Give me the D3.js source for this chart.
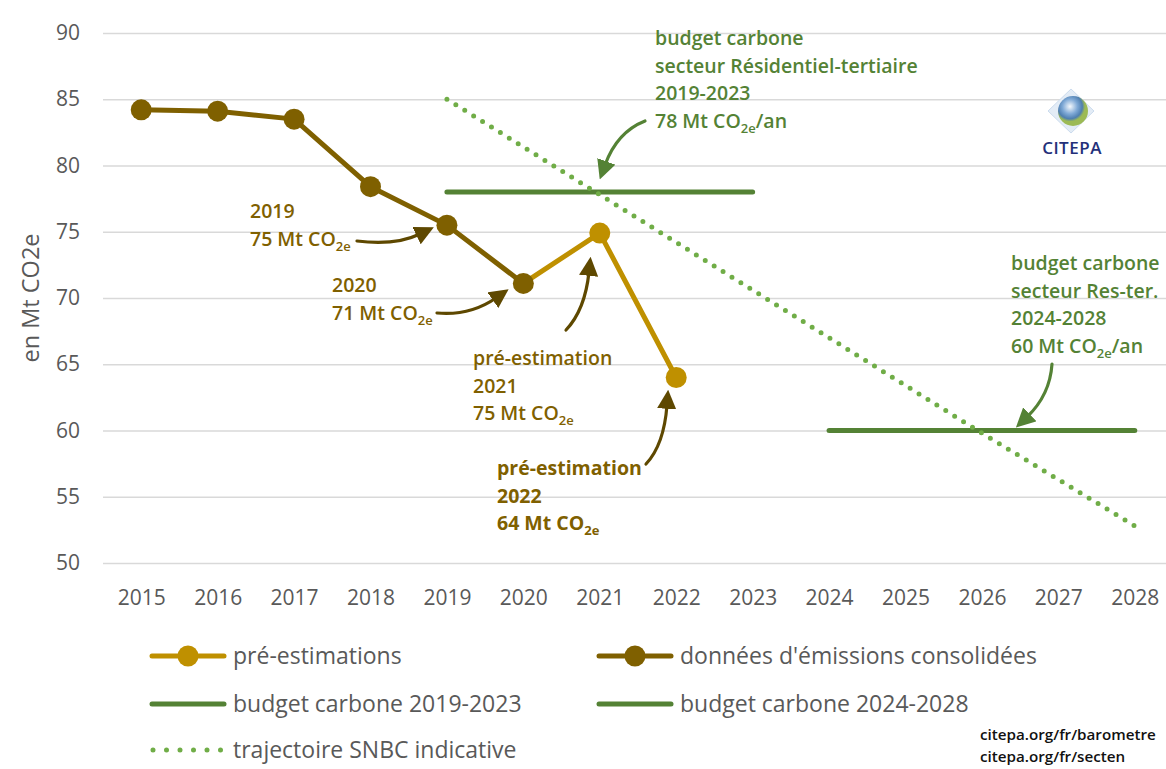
<!DOCTYPE html>
<html>
<head>
<meta charset="utf-8">
<script src="https://cdn.jsdelivr.net/npm/d3@7"></script>
<style>
  body { margin: 0; background: #fff; }
  svg { display: block; }
</style>
</head>
<body>
<div id="chart"></div>
<script>
// data
const years = [2015, 2016, 2017, 2018, 2019, 2020, 2021, 2022, 2023, 2024, 2025, 2026, 2027, 2028];
const consolidatedYears = [2015, 2016, 2017, 2018, 2019, 2020];
const consolidatedValues = [84.2, 84.1, 83.5, 78.4, 75.5, 71.1];
const preYears = [2020, 2021, 2022];
const preValues = [71.1, 74.9, 64.0];
const budget1Years = [2019, 2023];
const budget1Values = [78, 78];
const budget2Years = [2024, 2028];
const budget2Values = [60, 60];
const snbcYears = [2019, 2020, 2021, 2022, 2023, 2024, 2025, 2026, 2027, 2028];
const snbcValues = [85, 81.4, 77.8, 74.2, 70.6, 67.0, 63.4, 59.8, 56.3, 52.8];
const yTicks = [50, 55, 60, 65, 70, 75, 80, 85, 90];

const W = 1166, H = 769;
const textFont = "'Open Sans', sans-serif";
const tickFont = "'Open Sans', sans-serif";

const cBrown = "#7f6000", cGold = "#bf9000", cGreen = "#548235", cDots = "#70ad47";
const cArrowBrown = "#5e4800", cGray = "#595959";

let svg = d3.select("#chart").append("svg")
  .attr("width", W).attr("height", H);

let x = d3.scalePoint().domain(years).range([103, 1173]).padding(0.5);
let y = d3.scaleLinear().domain([50, 90]).range([563, 33]);

// grid
let grid = svg.append("g")
  .attr("transform", "translate(103,0)")
  .call(d3.axisLeft(y).tickValues(yTicks).tickSize(-(W - 103)).tickFormat(""));
grid.select(".domain").remove();
grid.selectAll("line").attr("stroke", "#d9d9d9").attr("stroke-width", 1.5);

// y labels
let yAx = svg.append("g").attr("transform", "translate(80,0)")
  .call(d3.axisLeft(y).tickValues(yTicks).tickSize(0).tickPadding(0));
yAx.select(".domain").remove();
yAx.selectAll("text").attr("fill", cGray).style("font-family", tickFont).style("font-size", "21px");

// x labels
let xAx = svg.append("g").attr("transform", "translate(0,590)")
  .call(d3.axisBottom(x).tickSize(0).tickPadding(0));
xAx.select(".domain").remove();
xAx.selectAll("text").attr("fill", cGray).style("font-family", tickFont).style("font-size", "21px");

svg.append("text")
  .attr("transform", "translate(39,298) rotate(-90)")
  .attr("text-anchor", "middle")
  .attr("fill", cGray)
  .style("font-family", tickFont).style("font-size", "23.5px")
  .text("en Mt CO2e");

let line = d3.line().x(d => x(d[0])).y(d => y(d[1]));

// budgets
svg.append("path").datum(d3.zip(budget1Years, budget1Values))
  .attr("d", line).attr("fill", "none").attr("stroke", cGreen)
  .attr("stroke-width", 5).attr("stroke-linecap", "round");
svg.append("path").datum(d3.zip(budget2Years, budget2Values))
  .attr("d", line).attr("fill", "none").attr("stroke", cGreen)
  .attr("stroke-width", 5).attr("stroke-linecap", "round");

// SNBC dotted
svg.append("path").datum(d3.zip(snbcYears, snbcValues))
  .attr("d", line).attr("fill", "none").attr("stroke", cDots)
  .attr("stroke-width", 5).attr("stroke-linecap", "round")
  .attr("stroke-dasharray", "0 10.5");

// pre-estimations
svg.append("path").datum(d3.zip(preYears, preValues))
  .attr("d", line).attr("fill", "none").attr("stroke", cGold)
  .attr("stroke-width", 5).attr("stroke-linejoin", "round");
svg.selectAll(".pre").data(d3.zip(preYears, preValues).slice(1)).enter()
  .append("circle").attr("class", "pre")
  .attr("cx", d => x(d[0])).attr("cy", d => y(d[1])).attr("r", 10.5)
  .attr("fill", cGold);

// consolidated
svg.append("path").datum(d3.zip(consolidatedYears, consolidatedValues))
  .attr("d", line).attr("fill", "none").attr("stroke", cBrown)
  .attr("stroke-width", 5).attr("stroke-linejoin", "round");
svg.selectAll(".cons").data(d3.zip(consolidatedYears, consolidatedValues)).enter()
  .append("circle").attr("class", "cons")
  .attr("cx", d => x(d[0])).attr("cy", d => y(d[1])).attr("r", 10.5)
  .attr("fill", cBrown);

// arrow markers
let defs = svg.append("defs");
[["arrB", cArrowBrown], ["arrG", cGreen]].forEach(([id, col]) => {
  defs.append("marker").attr("id", id)
    .attr("viewBox", "0 0 10 10").attr("refX", 2).attr("refY", 5)
    .attr("markerWidth", 6).attr("markerHeight", 6)
    .attr("markerUnits", "strokeWidth")
    .attr("orient", "auto")
    .append("path").attr("d", "M0,0 L10,5 L0,10 z").attr("fill", col);
});

function arrow(x0, y0, cx, cy, x1, y1, id, col) {
  let p = d3.path();
  p.moveTo(x0, y0);
  p.quadraticCurveTo(cx, cy, x1, y1);
  svg.append("path").attr("d", p.toString()).attr("fill", "none")
    .attr("stroke", col).attr("stroke-width", 3.2)
    .attr("stroke-linecap", "round")
    .attr("marker-end", `url(#${id})`);
}

// annotation text block
function note(x0, y0, lines, col, weight) {
  let t = svg.append("text").attr("x", x0).attr("y", y0)
    .attr("fill", col).style("font-family", textFont)
    .style("font-size", "19.5px").style("font-weight", weight);
  lines.forEach((l, i) => {
    let ts = t.append("tspan").attr("x", x0).attr("dy", i === 0 ? 0 : 27.7);
    if (l.indexOf("CO2e") >= 0) {
      let parts = l.split("CO2e");
      ts.text(parts[0] + "CO");
      t.append("tspan").attr("dy", 5).style("font-size", "13px").text("2e");
      t.append("tspan").attr("dy", -5).text(parts[1]);
    } else {
      ts.text(l);
    }
  });
}

note(250, 218, ["2019", "75 Mt CO2e"], cBrown, 600);
arrow(357, 241, 395, 246, 420, 234, "arrB", cArrowBrown);
note(332, 292, ["2020", "71 Mt CO2e"], cBrown, 600);
arrow(437, 313, 470, 316, 496, 298, "arrB", cArrowBrown);
note(473, 365, ["pré-estimation", "2021", "75 Mt CO2e"], cBrown, 600);
arrow(566, 330, 585, 310, 589, 272, "arrB", cArrowBrown);
note(497, 475, ["pré-estimation", "2022", "64 Mt CO2e"], cBrown, 700);
arrow(646, 464, 664, 445, 667, 405, "arrB", cArrowBrown);

note(655, 45, ["budget carbone", "secteur Résidentiel-tertiaire", "2019-2023", "78 Mt CO2e/an"], cGreen, 600);
arrow(645, 121, 617, 132, 605, 165, "arrG", cGreen);
note(1011, 270, ["budget carbone", "secteur Res-ter.", "2024-2028", "60 Mt CO2e/an"], cGreen, 600);
arrow(1052, 364, 1050, 395, 1027, 417, "arrG", cGreen);

// legend
let legend = [
  { label: "pré-estimations", col: cGold, kind: "marker", x: 150, y: 656 },
  { label: "données d'émissions consolidées", col: cBrown, kind: "marker", x: 597, y: 656 },
  { label: "budget carbone 2019-2023", col: cGreen, kind: "line", x: 150, y: 704 },
  { label: "budget carbone 2024-2028", col: cGreen, kind: "line", x: 597, y: 704 },
  { label: "trajectoire SNBC indicative", col: cDots, kind: "dots", x: 150, y: 750 }
];
legend.forEach(d => {
  let g = svg.append("g").attr("transform", `translate(${d.x},${d.y})`);
  let ln = g.append("line").attr("x1", 2).attr("x2", 74).attr("stroke", d.col)
    .attr("stroke-width", 5).attr("stroke-linecap", "round");
  if (d.kind === "marker") {
    g.append("circle").attr("cx", 38).attr("r", 10.5).attr("fill", d.col);
  }
  if (d.kind === "dots") {
    ln.attr("x1", 3).attr("x2", 73).attr("stroke-dasharray", "0 13.5").attr("stroke-width", 5);
  }
  g.append("text").attr("x", 83).attr("y", 8).attr("fill", cGray)
    .style("font-family", textFont).style("font-size", "23px")
    .text(d.label);
});

// sources
svg.append("text").attr("x", 980).attr("y", 740).attr("fill", "#111")
  .style("font-family", textFont).style("font-size", "15.2px").style("font-weight", 600)
  .text("citepa.org/fr/barometre");
svg.append("text").attr("x", 980).attr("y", 762).attr("fill", "#111")
  .style("font-family", textFont).style("font-size", "15.2px").style("font-weight", 600)
  .text("citepa.org/fr/secten");

// logo
let logo = svg.append("g").attr("transform", "translate(1071,111)");
let grad = defs.append("radialGradient").attr("id", "globe").attr("cx", "40%").attr("cy", "35%");
grad.append("stop").attr("offset", "0%").attr("stop-color", "#f4f8fc");
grad.append("stop").attr("offset", "50%").attr("stop-color", "#7fa9d6");
grad.append("stop").attr("offset", "82%").attr("stop-color", "#4f7fb0");
grad.append("stop").attr("offset", "100%").attr("stop-color", "#9cba55");
logo.append("path").attr("d", "M0,-22 L23,0 L0,22 L-23,0 Z")
  .attr("fill", "#e3ecf6").attr("stroke", "#ccdcee").attr("stroke-width", 1);
logo.append("circle").attr("cx", 2).attr("cy", 0).attr("r", 15).attr("fill", "url(#globe)");
logo.append("text").attr("x", 1).attr("y", 43).attr("text-anchor", "middle")
  .attr("fill", "#23307a").style("font-family", "'Open Sans', sans-serif")
  .style("font-size", "17px").style("font-weight", 600)
  .style("letter-spacing", "0.5px").text("CITEPA");
</script>
</body>
</html>
